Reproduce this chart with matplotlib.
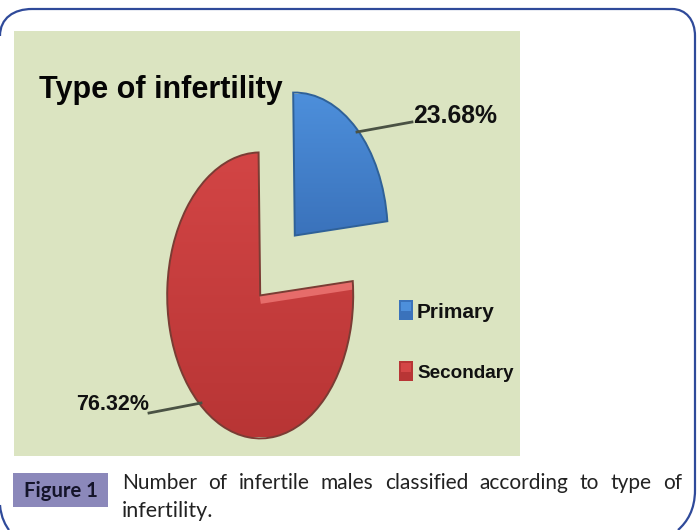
import numpy as np
import matplotlib
matplotlib.use("Agg")
import matplotlib.pyplot as plt
from matplotlib.patches import Rectangle, PathPatch
from matplotlib.path import Path

labels = ["Primary", "Secondary"]
shares = [23.68, 76.32]
share_labels = ["23.68%", "76.32%"]
title = "Type of infertility"
caption_tag = "Figure 1"
caption_lines = ["Number of infertile males classified according to type of", "infertility."]

W, H = 698, 530
CX, CY = 277.5, 265.5   # pie centre in pixels
RX, RY = 93, 143        # the pie is squashed sideways
START = 91

_BLUE = ("#4d8fdb", "#3a72bb")
_RED = ("#d44646", "#b83535")
_PANEL = "#dbe4c1"
_FRAME = "#2f4a9a"
_CHART_FONT = ["Liberation Sans", "DejaVu Sans"]
_CAPTION_FONT = ["Lato", "DejaVu Sans"]


def gradient(ax, wedge, colors, y0, y1):
    # vertical colour ramp clipped to the wedge
    c0 = np.array(matplotlib.colors.to_rgb(colors[0]))
    c1 = np.array(matplotlib.colors.to_rgb(colors[1]))
    t = np.linspace(0, 1, 256)[:, None, None]
    img = c0[None, None, :] * (1 - t) + c1[None, None, :] * t
    x0, x1 = ax.get_xlim()
    im = ax.imshow(img, extent=(x0, x1, y1, y0), aspect="auto", zorder=2, origin="upper")
    im.set_clip_path(wedge)


fig = plt.figure(figsize=(W / 100, H / 100), dpi=100, facecolor="white")

# pixel-space layer for panel, frame and text
bg = fig.add_axes([0, 0, 1, 1], zorder=0)
bg.set_xlim(0, W)
bg.set_ylim(H, 0)
bg.axis("off")
bg.add_patch(Rectangle((14, 31), 506, 425, facecolor=_PANEL, edgecolor="none"))

# pie
ax = fig.add_axes([0, 0, 1, 1], zorder=1)
ax.patch.set_alpha(0)
wedges, _ = ax.pie(
    shares, explode=[0.28, 0.28], startangle=START, counterclock=False,
    colors=[_BLUE[1], _RED[1]],
    wedgeprops=dict(linewidth=1.4),
)
ax.set_aspect("auto")
ax.set_xlim(-CX / RX, (W - CX) / RX)
ax.set_ylim(-(H - CY) / RY, CY / RY)
xl, yl = ax.get_xlim(), ax.get_ylim()
gradient(ax, wedges[0], _BLUE, 1.2, 0.2)
gradient(ax, wedges[1], _RED, 0.9, -1.2)

# light facet along the notch of the red slice
a = np.deg2rad(START - shares[0] * 3.6)
cx, cy = wedges[1].center
facet, = ax.plot([cx, cx + np.cos(a)], [cy - 0.03, cy + np.sin(a) - 0.03],
                 color="#e66c6a", lw=6, zorder=2.5, solid_capstyle="butt")
facet.set_clip_path(wedges[1])

for w, edge in zip(wedges, ["#2f6198", "#7a3c34"]):
    w.set_facecolor("none")
    w.set_edgecolor(edge)
    w.set_zorder(3)
ax.set_xlim(xl)
ax.set_ylim(yl)
ax.axis("off")

# top layer
fg = fig.add_axes([0, 0, 1, 1], zorder=2)
fg.patch.set_alpha(0)
fg.set_xlim(0, W)
fg.set_ylim(H, 0)
fg.axis("off")

fg.plot([357, 412], [132, 122], color="#4a5244", lw=2, zorder=0)
fg.plot([149, 201], [413, 403], color="#4a5244", lw=2, zorder=0)

fg.text(39, 90, title, fontsize=22, fontweight="bold", family=_CHART_FONT, va="center", color="#050505")
fg.text(413, 116, share_labels[0], fontsize=17.8, fontweight="bold", family=_CHART_FONT, va="center", color="#111111")
fg.text(76, 405, share_labels[1], fontsize=15.5, fontweight="bold", family=_CHART_FONT, va="center", color="#111111")

# legend
for y, name, cols in zip([300, 361], labels, [_BLUE, _RED]):
    fg.add_patch(Rectangle((399, y), 14, 20, facecolor=cols[1], edgecolor="none"))
    fg.add_patch(Rectangle((401, y + 2), 10, 9, facecolor=cols[0], edgecolor="none"))
fg.text(417, 313, labels[0], fontsize=15, fontweight="bold", family=_CHART_FONT, va="center", color="#111111")
fg.text(417, 374, labels[1], fontsize=13.6, fontweight="bold", family=_CHART_FONT, va="center", color="#111111")

# caption
fg.add_patch(Rectangle((13, 473), 95, 34, facecolor="#8b88ba", edgecolor="none"))
fg.text(60.5, 491, caption_tag, fontsize=14.6, fontweight="bold", family=_CAPTION_FONT, ha="center", va="center", color="#14142a")

# first caption line is justified between x=122 and x=682
renderer = fig.canvas.get_renderer()
words = caption_lines[0].split()
artists = [fg.text(0, 483, w, fontsize=15, family=_CAPTION_FONT, va="center", color="#222222") for w in words]
widths = [t.get_window_extent(renderer).width for t in artists]
gap = (682 - 122 - sum(widths)) / (len(words) - 1)
x = 122
for t, wd in zip(artists, widths):
    t.set_x(x)
    x += wd + gap
fg.text(122, 511, caption_lines[1], fontsize=15.5, family=_CAPTION_FONT, va="center", color="#222222")

# rounded frame, open at the bottom
verts = [(0, 36), (0, 18), (14, 9), (32, 9), (672, 9), (686, 9), (695, 20), (695, 36),
         (695, 490), (695, 510), (687, 522), (678, 530)]
codes = [Path.MOVETO, Path.CURVE4, Path.CURVE4, Path.CURVE4, Path.LINETO, Path.CURVE4, Path.CURVE4, Path.CURVE4,
         Path.LINETO, Path.CURVE4, Path.CURVE4, Path.CURVE4]
fg.add_patch(PathPatch(Path(verts, codes), facecolor="none", edgecolor=_FRAME, lw=1.6))
fg.add_patch(PathPatch(Path([(0, 505), (1, 518), (6, 526), (9, 530)],
                            [Path.MOVETO, Path.CURVE4, Path.CURVE4, Path.CURVE4]),
                       facecolor="none", edgecolor=_FRAME, lw=1.6))

fig.savefig("out.png", dpi=100)
